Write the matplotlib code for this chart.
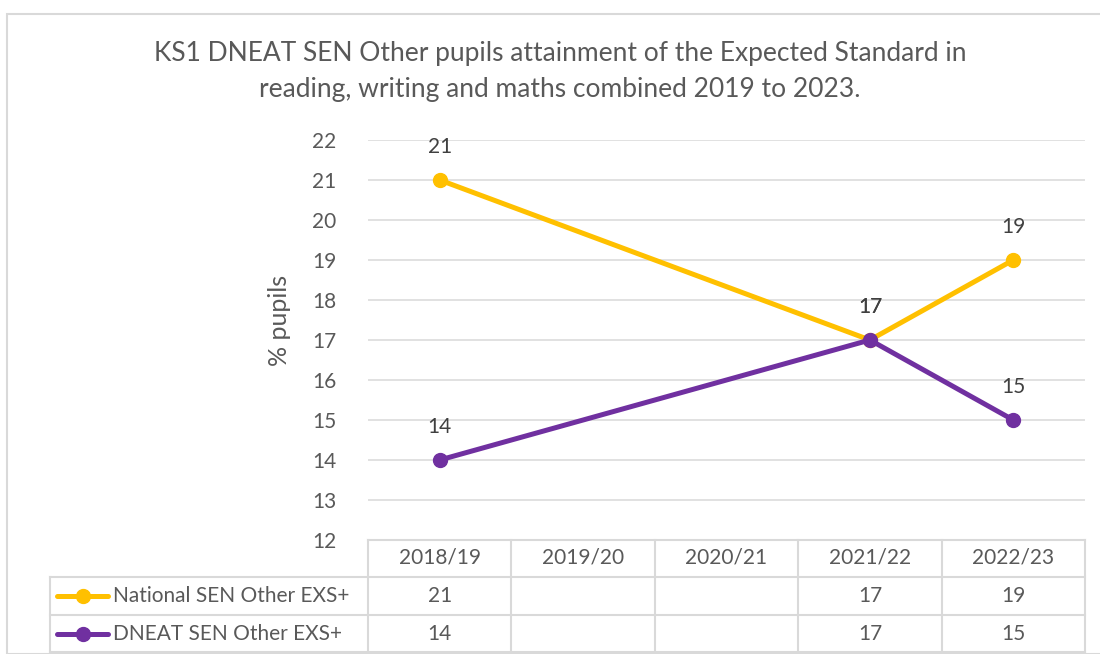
import numpy as np
import matplotlib
matplotlib.use("Agg")
import matplotlib.pyplot as plt
from matplotlib.patches import Rectangle
from matplotlib.lines import Line2D
import matplotlib.transforms as mtransforms

plt.rcParams["font.family"] = ["Lato", "DejaVu Sans"]

years = ["2018/19", "2019/20", "2020/21", "2021/22", "2022/23"]
national = [21, None, None, 17, 19]
dneat = [14, None, None, 17, 15]
series_names = ["National SEN Other EXS+", "DNEAT SEN Other EXS+"]
series_colors = ["#FFC000", "#7030A0"]
title = "KS1 DNEAT SEN Other pupils attainment of the Expected Standard in\nreading, writing and maths combined 2019 to 2023."

W, H = 1100, 654
txt = "#595959"
grid_c = "#D9D9D9"
fs = 15

fig = plt.figure(figsize=(W / 100, H / 100), dpi=100)

# outer chart border
fig.patches.append(Rectangle((7 / W, 0), (W + 10) / W, 1 - 14 / H, transform=fig.transFigure,
                             fill=False, edgecolor=grid_c, lw=1.5, clip_on=False))

# plot area in pixels
x0, x1, ytop, ybot = 368, 1085, 140, 540
ax = fig.add_axes([x0 / W, 1 - ybot / H, (x1 - x0) / W, (ybot - ytop) / H])
ax.set_xlim(-0.5, len(years) - 0.5)
ax.set_ylim(12, 22)
ax.set_yticks(range(12, 23))
ax.set_xticks([])
for s in ax.spines.values():
    s.set_visible(False)
ax.tick_params(axis="y", length=0, pad=23, labelsize=fs, labelcolor=txt)
for v in range(13, 23):
    ax.axhline(v, color=grid_c, lw=1.1, zorder=0)

ax.set_ylabel("% pupils", fontsize=18, color=txt)
ax.yaxis.set_label_coords(-0.107, 0.55)

fig.text(0.509, 1 - 71 / H, title, ha="center", va="center", fontsize=19,
         color=txt, linespacing=1.55)

xs = np.arange(len(years))
for vals, col in zip([national, dneat], series_colors):
    px = [x for x, v in zip(xs, vals) if v is not None]
    py = [v for v in vals if v is not None]
    ax.plot(px, py, color=col, lw=3.6, marker="o", markersize=10, zorder=3,
            solid_capstyle="round")
    for x, v in zip(px, py):
        ax.annotate(str(v), (x, v), xytext=(0, 24), textcoords="offset points",
                    ha="center", va="center", fontsize=fs, color="#404040")

# data table below the plot
tr = mtransforms.blended_transform_factory(ax.transData, ax.transAxes)
ph = ybot - ytop
def ya(py):
    return (ybot - py) / ph

row_y = [540, 577, 615, 652]
lab_left = -0.5 - (x0 - 50) / 143.4
lc = dict(color=grid_c, lw=1.5, transform=tr, clip_on=False)
# horizontal lines
ax.add_line(Line2D([-0.5, 4.5], [ya(540)] * 2, **lc))
for py in row_y[1:]:
    ax.add_line(Line2D([lab_left, 4.5], [ya(py)] * 2, **lc))
# vertical lines
for i in range(len(years) + 1):
    ax.add_line(Line2D([i - 0.5] * 2, [ya(540), ya(652)], **lc))
ax.add_line(Line2D([lab_left] * 2, [ya(577), ya(652)], **lc))

for i, y in enumerate(years):
    ax.text(i, ya(558), y, transform=tr, ha="center", va="center", fontsize=fs, color=txt)
for r, (vals, name, col) in enumerate(zip([national, dneat], series_names, series_colors)):
    yc = ya((row_y[r + 1] + row_y[r + 2]) / 2)
    for i, v in enumerate(vals):
        if v is not None:
            ax.text(i, yc, str(v), transform=tr, ha="center", va="center", fontsize=fs, color=txt)
    lx0 = -0.5 - (x0 - 57) / 143.4
    lx1 = -0.5 - (x0 - 108) / 143.4
    ax.add_line(Line2D([lx0, lx1], [yc, yc], color=col, lw=3.6, transform=tr, clip_on=False,
                       solid_capstyle="round"))
    ax.add_line(Line2D([(lx0 + lx1) / 2], [yc], color=col, marker="o", markersize=10,
                       transform=tr, clip_on=False))
    ax.text(-0.5 - (x0 - 113) / 143.4, yc, name, transform=tr, ha="left", va="center",
            fontsize=fs, color=txt)

fig.savefig("out.png", dpi=100)
